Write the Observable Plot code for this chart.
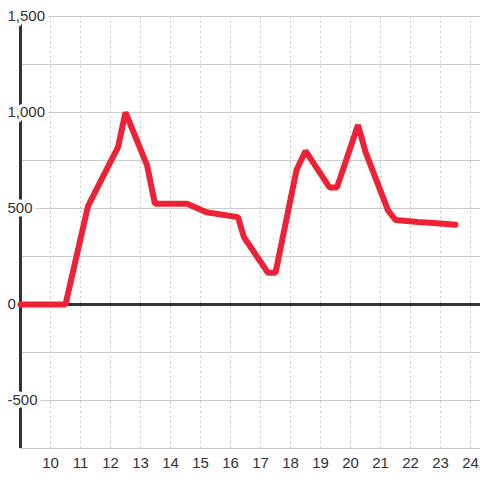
<!DOCTYPE html>
<html>
<head>
<meta charset="utf-8">
<script src="https://cdn.jsdelivr.net/npm/d3@7"></script>
<script src="https://cdn.jsdelivr.net/npm/@observablehq/plot@0.6"></script>
<style>
  html, body { margin: 0; padding: 0; background: #ffffff; }
  #chart svg { display: block; font-family: "Liberation Sans", Arial, sans-serif; }
</style>
</head>
<body>
<div id="chart"></div>
<script>
// Data
const hours = [9, 10.5, 11.25, 12.25, 12.5, 13.22, 13.48, 14.55, 15.2, 16.25, 16.45, 17.25, 17.5, 18.2, 18.5, 19.3, 19.55, 20.25, 20.5, 21.25, 21.5, 22.25, 23, 23.5];
const values = [0, 0, 512, 820, 1000, 725, 525, 525, 480, 455, 350, 165, 165, 700, 800, 610, 610, 935, 795, 490, 440, 430, 422, 415];
const xTicks = [10, 11, 12, 13, 14, 15, 16, 17, 18, 19, 20, 21, 22, 23, 24];
const yTicks = [-500, 0, 500, 1000, 1500];
const yGrid = [-750, -500, -250, 0, 250, 500, 750, 1000, 1250, 1500];

const data = hours.map((h, i) => ({x: h, y: values[i]}));
const fmt = d => d3.format(",")(Math.abs(d)).replace(/^/, d < 0 ? "-" : "");

const chart = Plot.plot({
  width: 480,
  height: 480,
  marginLeft: 20,
  marginRight: 0,
  marginTop: 16,
  marginBottom: 32,
  x: {domain: [9, 24 + 1/3], axis: null},
  y: {domain: [-750, 1500], axis: null},
  marks: [
    Plot.ruleY(yGrid, {stroke: "#cccccc", strokeWidth: 1}),
    Plot.ruleX(xTicks, {stroke: "#c8c8c8", strokeWidth: 1, strokeDasharray: "2,3"}),
    Plot.ruleX([9], {stroke: "#333333", strokeWidth: 3}),
    Plot.ruleY([0], {stroke: "#333333", strokeWidth: 3}),
    Plot.text(yTicks, {
      x: () => 9, y: d => d, text: d => fmt(d),
      textAnchor: "start", dx: -13, fontSize: 15, fill: "#333333",
      stroke: "white", strokeWidth: 7
    }),
    Plot.text(xTicks, {
      x: d => d, y: () => -750, text: d => String(d),
      dy: 15, fontSize: 15, fill: "#333333"
    }),
    Plot.line(data, {x: "x", y: "y", stroke: "#ee2236", strokeWidth: 6, strokeLinejoin: "miter", strokeLinecap: "round"})
  ]
});
document.getElementById("chart").appendChild(chart);
</script>
</body>
</html>
